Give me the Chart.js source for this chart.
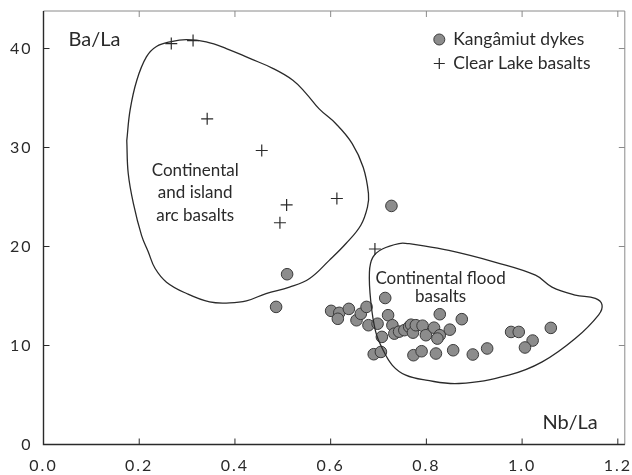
<!DOCTYPE html>
<html>
<head>
<meta charset="utf-8">
<script src="https://cdn.jsdelivr.net/npm/chart.js@4.4.1/dist/chart.umd.min.js"></script>
<style>
  html, body { margin: 0; padding: 0; background: #fff; }
  #wrap { width: 632px; height: 475px; }
</style>
</head>
<body>
<div id="wrap"><canvas id="c" width="632" height="475"></canvas></div>
<script>
// Axis ticks
const xTicks = [0, 0.2, 0.4, 0.6, 0.8, 1.0, 1.2];
const yTicks = [0, 10, 20, 30, 40];

// Kangâmiut dykes (Nb/La, Ba/La)
const dykesNbLa = [0.727, 0.509, 0.486,
  0.601, 0.618, 0.615, 0.638, 0.654, 0.663, 0.675, 0.679, 0.698, 0.714, 0.720,
  0.707, 0.690, 0.705, 0.729, 0.733, 0.743, 0.754, 0.764, 0.768, 0.772, 0.778,
  0.792, 0.799, 0.816, 0.828, 0.828, 0.823, 0.849, 0.874, 0.773, 0.790, 0.820,
  0.856, 0.897, 0.927, 0.977, 0.993, 1.022, 1.006, 1.060];
const dykesBaLa = [24.1, 17.2, 13.9,
  13.5, 13.3, 12.7, 13.7, 12.55, 13.2, 13.9, 12.05, 12.2, 14.8, 13.06,
  10.87, 9.12, 9.35, 12.05, 11.2, 11.4, 11.55, 11.9, 12.1, 11.3, 12.05,
  12.0, 11.04, 11.8, 13.16, 11.04, 10.7, 11.6, 12.66, 9.02, 9.42, 9.19,
  9.52, 9.09, 9.7, 11.37, 11.37, 10.5, 9.8, 11.78];

// Clear Lake basalts
const clearLakeNbLa = [0.267, 0.3125, 0.342, 0.456, 0.508, 0.494, 0.613, 0.6925];
const clearLakeBaLa = [40.5, 40.8, 32.9, 29.7, 24.2, 22.4, 24.85, 19.75];

// Continental and island arc basalt field outline
const arcFieldNbLa = [0.174, 0.181, 0.195, 0.215, 0.236, 0.267, 0.299, 0.340, 0.382, 0.431,
  0.479, 0.521, 0.548, 0.576, 0.611, 0.645, 0.668, 0.679, 0.677, 0.663, 0.632, 0.597,
  0.556, 0.514, 0.465, 0.424, 0.389, 0.347, 0.299, 0.257, 0.233, 0.219, 0.205, 0.188,
  0.177, 0.174];
const arcFieldBaLa = [30.7, 33.8, 36.8, 39.15, 40.2, 40.7, 40.9, 40.67, 40.0, 39.0,
  38.0, 36.8, 35.5, 33.9, 32.4, 30.4, 28.0, 25.35, 24.0, 22.15, 20.3, 18.6,
  16.77, 15.9, 15.25, 14.5, 14.3, 14.4, 15.25, 16.4, 17.8, 19.45, 21.1, 24.3,
  27.4, 30.7];

// Continental flood basalt field outline
const floodFieldNbLa = [0.764, 0.847, 0.9445, 1.028, 1.0625, 1.111, 1.153, 1.167, 1.160, 1.111,
  1.042, 0.972, 0.868, 0.799, 0.757, 0.729, 0.708, 0.694, 0.684, 0.681, 0.688, 0.708, 0.743,
  0.764];
const floodFieldBaLa = [20.3, 19.6, 18.4, 17.1, 15.9, 15.1, 14.75, 14.1, 13.1, 10.7,
  8.34, 7.0, 6.16, 6.5, 7.0, 8.0, 9.7, 11.4, 14.4, 17.4, 18.9, 19.75, 20.3,
  20.3];

const FONT = 'Lato, "Open Sans", sans-serif';
const INK = '#2a2a2a';

const toPoints = (xs, ys) => xs.map((x, i) => ({ x: x, y: ys[i] }));

// Plot frame with inward tick marks on all four sides
const framePlugin = {
  id: 'frame',
  beforeDraw(chart) {
    chart.ctx.letterSpacing = '2px';
  },
  beforeDatasetsDraw(chart) {
    const { ctx, chartArea: a, scales: { x, y } } = chart;
    ctx.letterSpacing = '0px';
    ctx.save();
    const len = 6;
    // top and right: light
    ctx.strokeStyle = '#8a8a8a';
    ctx.lineWidth = 1;
    ctx.beginPath();
    ctx.moveTo(a.left, a.top); ctx.lineTo(a.right, a.top); ctx.lineTo(a.right, a.bottom);
    xTicks.forEach(v => { const px = x.getPixelForValue(v); ctx.moveTo(px, a.top); ctx.lineTo(px, a.top + len); });
    yTicks.forEach(v => { const py = y.getPixelForValue(v); ctx.moveTo(a.right, py); ctx.lineTo(a.right - len, py); });
    ctx.stroke();
    // bottom and left: dark
    ctx.strokeStyle = INK;
    ctx.lineWidth = 1.4;
    ctx.beginPath();
    ctx.moveTo(a.left, a.top); ctx.lineTo(a.left, a.bottom); ctx.lineTo(a.right, a.bottom);
    ctx.stroke();
    ctx.lineWidth = 1;
    ctx.beginPath();
    xTicks.forEach(v => { const px = x.getPixelForValue(v); ctx.moveTo(px, a.bottom); ctx.lineTo(px, a.bottom - len); });
    yTicks.forEach(v => { const py = y.getPixelForValue(v); ctx.moveTo(a.left, py); ctx.lineTo(a.left + len, py); });
    ctx.stroke();
    ctx.restore();
  }
};

// Axis titles, field names and legend
const labelPlugin = {
  id: 'labels',
  afterDatasetsDraw(chart) {
    const { ctx, chartArea: a, scales: { x, y } } = chart;
    ctx.save();
    ctx.letterSpacing = '0px';
    ctx.fillStyle = INK;
    ctx.textBaseline = 'middle';

    ctx.font = '20px ' + FONT;
    ctx.textAlign = 'left';
    ctx.fillText('Ba/La', a.left + 25, a.top + 29);
    ctx.textAlign = 'right';
    ctx.fillText('Nb/La', a.right - 27, a.bottom - 22);

    ctx.font = '17px ' + FONT;
    ctx.textAlign = 'center';
    const ax = x.getPixelForValue(0.317);
    ['Continental', 'and island', 'arc basalts'].forEach((t, i) => {
      ctx.fillText(t, ax, y.getPixelForValue(27.7) + i * 22.5);
    });
    const fx = x.getPixelForValue(0.8296);
    ['Continental flood', 'basalts'].forEach((t, i) => {
      ctx.fillText(t, fx, y.getPixelForValue(16.8) + i * 18.5);
    });

    // legend
    const lx = a.right - 185.5, l1 = a.top + 28.5, l2 = a.top + 52.5;
    ctx.beginPath();
    ctx.arc(lx, l1, 5.5, 0, Math.PI * 2);
    ctx.fillStyle = '#8c8c8c';
    ctx.fill();
    ctx.strokeStyle = '#3a3a3a';
    ctx.lineWidth = 1;
    ctx.stroke();
    ctx.strokeStyle = INK;
    ctx.lineWidth = 1.2;
    ctx.beginPath();
    ctx.moveTo(lx - 5.5, l2); ctx.lineTo(lx + 5.5, l2);
    ctx.moveTo(lx, l2 - 5.5); ctx.lineTo(lx, l2 + 5.5);
    ctx.stroke();
    ctx.fillStyle = INK;
    ctx.font = '17.5px ' + FONT;
    ctx.textAlign = 'left';
    ctx.fillText('Kangâmiut dykes', lx + 14, l1);
    ctx.fillText('Clear Lake basalts', lx + 14, l2);
    ctx.restore();
  }
};

const outline = (xs, ys) => ({
  data: toPoints(xs, ys),
  showLine: true,
  tension: 0.4,
  borderColor: INK,
  borderWidth: 1.3,
  pointRadius: 0,
  fill: false,
  order: 0
});

const noEdgePadding = s => {
  s.paddingLeft = 0; s.paddingRight = 0; s.paddingTop = 0; s.paddingBottom = 0;
};

new Chart(document.getElementById('c'), {
  type: 'scatter',
  data: {
    datasets: [
      outline(arcFieldNbLa, arcFieldBaLa),
      outline(floodFieldNbLa, floodFieldBaLa),
      {
        label: 'Kangâmiut dykes',
        data: toPoints(dykesNbLa, dykesBaLa),
        pointStyle: 'circle',
        pointRadius: 5.8,
        backgroundColor: '#8c8c8c',
        borderColor: '#3a3a3a',
        borderWidth: 1,
        order: 1
      },
      {
        label: 'Clear Lake basalts',
        data: toPoints(clearLakeNbLa, clearLakeBaLa),
        pointStyle: 'cross',
        pointRadius: 6,
        borderColor: INK,
        borderWidth: 1.2,
        order: 2
      }
    ]
  },
  options: {
    responsive: false,
    animation: false,
    events: [],
    layout: { padding: { top: 11, right: 5.5, left: 0, bottom: 0 } },
    plugins: { legend: { display: false }, tooltip: { enabled: false } },
    scales: {
      x: {
        type: 'linear',
        min: 0,
        max: 1.2146,
        grid: { display: false },
        border: { display: false },
        ticks: {
          stepSize: 0.2,
          includeBounds: false,
          padding: 4,
          color: INK,
          font: { family: FONT, size: 16 },
          maxRotation: 0,
          callback: v => v.toFixed(1)
        },
        afterFit(s) { s.height = 30.5; noEdgePadding(s); }
      },
      y: {
        type: 'linear',
        min: 0,
        max: 43.79,
        grid: { display: false },
        border: { display: false },
        ticks: {
          stepSize: 10,
          includeBounds: false,
          padding: 3,
          color: INK,
          font: { family: FONT, size: 16 },
          callback: v => String(v)
        },
        afterFit(s) { s.width = 43.5; noEdgePadding(s); }
      }
    }
  },
  plugins: [framePlugin, labelPlugin]
});
</script>
</body>
</html>
